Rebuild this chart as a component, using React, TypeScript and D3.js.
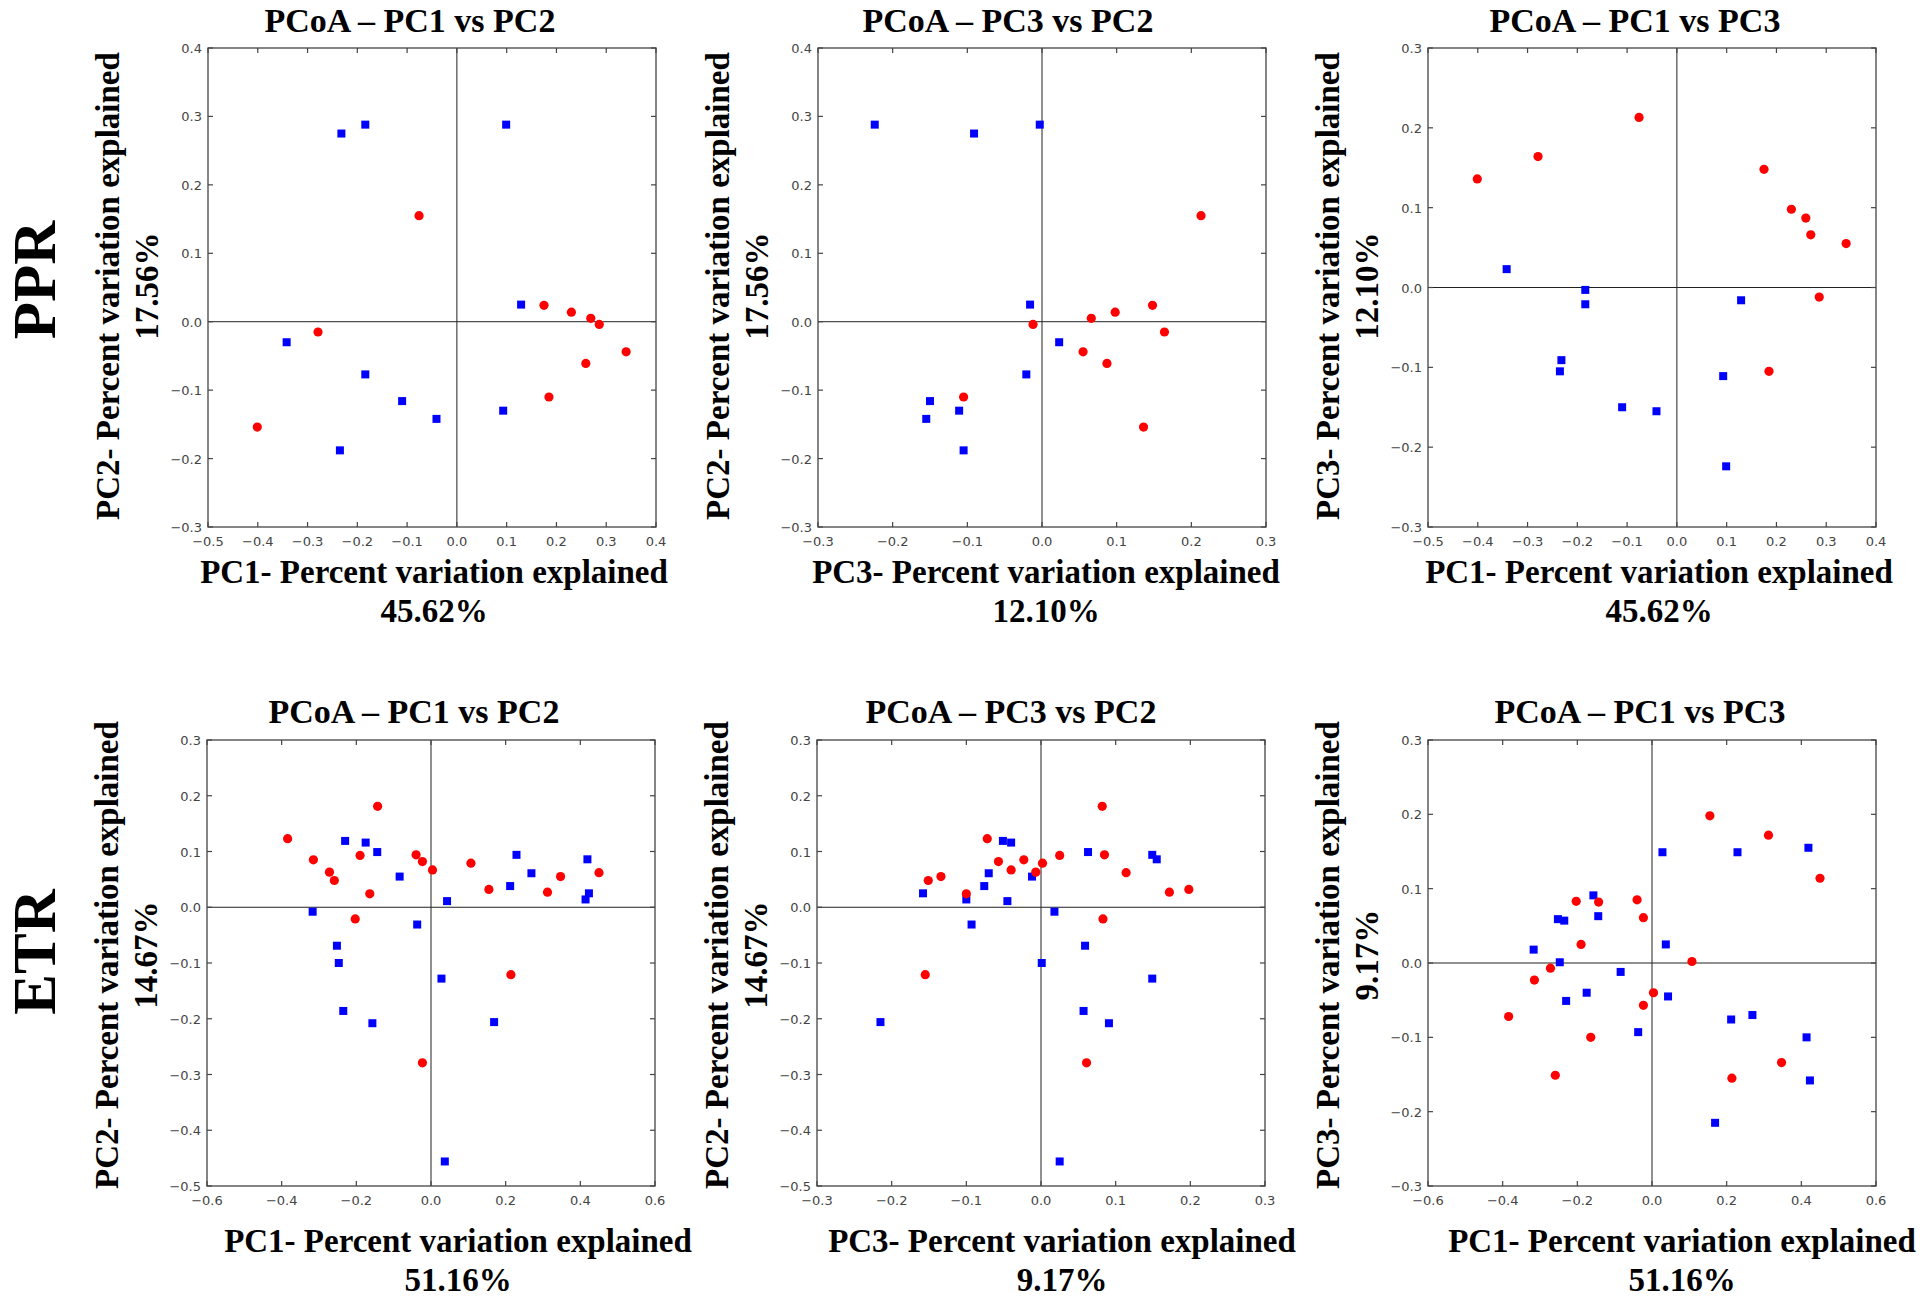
import React, { useEffect } from 'react';
import * as d3 from 'd3';

// ---------------- DATA ----------------
// PPR (blue squares / red circles)
const pprBluePC1 = [-0.232, -0.184, 0.099, 0.129, -0.342, -0.184, -0.110, -0.041, 0.093, -0.235];
const pprBluePC2 = [0.275, 0.288, 0.288, 0.025, -0.030, -0.077, -0.116, -0.142, -0.130, -0.188];
const pprBluePC3 = [-0.091, -0.003, -0.224, -0.016, 0.023, -0.021, -0.150, -0.155, -0.111, -0.105];
const pprRedPC1 = [-0.076, -0.279, -0.401, 0.175, 0.230, 0.269, 0.286, 0.340, 0.259, 0.185];
const pprRedPC2 = [0.155, -0.015, -0.154, 0.024, 0.014, 0.005, -0.004, -0.044, -0.061, -0.110];
const pprRedPC3 = [0.213, 0.164, 0.136, 0.148, 0.098, 0.066, -0.012, 0.055, 0.087, -0.105];

// ETR (blue squares / red circles)
const etrBluePC1 = [-0.230, -0.175, -0.144, -0.084, -0.317, -0.252, -0.247, -0.235, -0.157, -0.037, 0.043, 0.028, 0.037, 0.169, 0.212, 0.229, 0.269, 0.419, 0.414, 0.423];
const etrBluePC2 = [0.119, 0.116, 0.099, 0.055, -0.008, -0.069, -0.100, -0.186, -0.208, -0.031, 0.011, -0.128, -0.456, -0.206, 0.038, 0.094, 0.061, 0.086, 0.014, 0.025];
const etrBluePC3 = [-0.051, -0.040, 0.063, -0.012, 0.018, 0.059, 0.001, 0.057, 0.091, -0.093, -0.045, 0.149, 0.025, -0.215, -0.076, 0.149, -0.070, 0.155, -0.100, -0.158];
const etrRedPC1 = [-0.384, -0.315, -0.272, -0.259, -0.143, -0.190, -0.164, -0.203, -0.040, -0.023, 0.004, -0.023, 0.107, 0.155, 0.214, 0.312, 0.347, 0.450];
const etrRedPC2 = [0.123, 0.085, 0.063, 0.048, 0.181, 0.093, 0.024, -0.021, 0.094, 0.082, 0.067, -0.279, 0.079, 0.032, -0.121, 0.027, 0.055, 0.062];
const etrRedPC3 = [-0.072, -0.023, -0.007, -0.151, 0.082, 0.025, -0.100, 0.083, 0.085, -0.057, -0.040, 0.061, 0.002, 0.198, -0.155, 0.172, -0.134, 0.114];

// Tick values
const pprPC1Ticks = [-0.5, -0.4, -0.3, -0.2, -0.1, 0.0, 0.1, 0.2, 0.3, 0.4];
const pprPC2Ticks = [-0.3, -0.2, -0.1, 0.0, 0.1, 0.2, 0.3, 0.4];
const pprPC3Ticks = [-0.3, -0.2, -0.1, 0.0, 0.1, 0.2, 0.3];
const etrPC1Ticks = [-0.6, -0.4, -0.2, 0.0, 0.2, 0.4, 0.6];
const etrPC2Ticks = [-0.5, -0.4, -0.3, -0.2, -0.1, 0.0, 0.1, 0.2, 0.3];
const etrPC3Ticks = [-0.3, -0.2, -0.1, 0.0, 0.1, 0.2, 0.3];

// Texts
const panelTitles = ['PCoA – PC1 vs PC2', 'PCoA – PC3 vs PC2', 'PCoA – PC1 vs PC3'];
const pcNames = ['PC1', 'PC2', 'PC3'];
const pprVariance = ['45.62%', '17.56%', '12.10%'];
const etrVariance = ['51.16%', '14.67%', '9.17%'];
const rowLabels = ['PPR', 'ETR'];
// which PCs each column plots (x, y)
const columnAxes: [number, number][] = [[0, 1], [2, 1], [0, 2]];

const BLUE = '#0000ff';
const RED = '#ff0000';
const SERIF = '"Liberation Serif", "Times New Roman", serif';
const SANS = '"DejaVu Sans", sans-serif';
const fmt = d3.format('.1f');

type PanelProps = {
  left: number; top: number; w: number; h: number;
  xTicks: number[]; yTicks: number[];
  blueX: number[]; blueY: number[]; redX: number[]; redY: number[];
  title: string; titleX: number; titleY: number;
  xLabel: string; xPct: string; xLabelX: number; xLabelY: number;
  yLabel: string; yPct: string; yLabelCY: number;
};

function Panel(p: PanelProps) {
  const x = d3.scaleLinear().domain([p.xTicks[0], p.xTicks[p.xTicks.length - 1]]).range([p.left, p.left + p.w]);
  const y = d3.scaleLinear().domain([p.yTicks[0], p.yTicks[p.yTicks.length - 1]]).range([p.top + p.h, p.top]);
  const tl = 5;
  const frame = '#444';
  const bottom = p.top + p.h;
  const right = p.left + p.w;
  const sq = 8;
  return (
    <g>
      <text x={p.titleX} y={p.titleY} textAnchor="middle" fontFamily={SERIF} fontWeight="bold" fontSize={34} fill="#000">{p.title}</text>
      {/* zero lines */}
      <line x1={x(0)} x2={x(0)} y1={p.top} y2={bottom} stroke="#222" strokeWidth={1} />
      <line x1={p.left} x2={right} y1={y(0)} y2={y(0)} stroke="#222" strokeWidth={1} />
      {/* ticks */}
      {p.xTicks.map((t, i) => (
        <g key={'xt' + i}>
          <line x1={x(t)} x2={x(t)} y1={bottom} y2={bottom - tl} stroke={frame} strokeWidth={1.2} />
          <line x1={x(t)} x2={x(t)} y1={p.top} y2={p.top + tl} stroke={frame} strokeWidth={1.2} />
          <text x={x(t)} y={bottom + 19} textAnchor="middle" fontFamily={SANS} fontSize={13} fill="#444">{fmt(t)}</text>
        </g>
      ))}
      {p.yTicks.map((t, i) => (
        <g key={'yt' + i}>
          <line x1={p.left} x2={p.left + tl} y1={y(t)} y2={y(t)} stroke={frame} strokeWidth={1.2} />
          <line x1={right} x2={right - tl} y1={y(t)} y2={y(t)} stroke={frame} strokeWidth={1.2} />
          <text x={p.left - 6} y={y(t) + 5} textAnchor="end" fontFamily={SANS} fontSize={13} fill="#444">{fmt(t)}</text>
        </g>
      ))}
      <rect x={p.left} y={p.top} width={p.w} height={p.h} fill="none" stroke={frame} strokeWidth={1.3} />
      {/* points */}
      {p.blueX.map((v, i) => (
        <rect key={'b' + i} x={x(v) - sq / 2} y={y(p.blueY[i]) - sq / 2} width={sq} height={sq} fill={BLUE} />
      ))}
      {p.redX.map((v, i) => (
        <circle key={'r' + i} cx={x(v)} cy={y(p.redY[i])} r={4.6} fill={RED} />
      ))}
      {/* axis labels */}
      <text x={p.xLabelX} y={p.xLabelY} textAnchor="middle" fontFamily={SERIF} fontWeight="bold" fontSize={33} fill="#000">{p.xLabel}</text>
      <text x={p.xLabelX} y={p.xLabelY + 39} textAnchor="middle" fontFamily={SERIF} fontWeight="bold" fontSize={33} fill="#000">{p.xPct}</text>
      <text transform={`translate(${p.left - 89},${p.yLabelCY}) rotate(-90)`} textAnchor="middle" fontFamily={SERIF} fontWeight="bold" fontSize={33} fill="#000">{p.yLabel}</text>
      <text transform={`translate(${p.left - 50},${p.yLabelCY}) rotate(-90)`} textAnchor="middle" fontFamily={SERIF} fontWeight="bold" fontSize={33} fill="#000">{p.yPct}</text>
    </g>
  );
}

export default function App() {
  useEffect(() => {
    document.body.style.margin = '0';
  }, []);

  const pprData = [pprBluePC1, pprBluePC2, pprBluePC3];
  const pprRed = [pprRedPC1, pprRedPC2, pprRedPC3];
  const pprTicks = [pprPC1Ticks, pprPC2Ticks, pprPC3Ticks];
  const etrData = [etrBluePC1, etrBluePC2, etrBluePC3];
  const etrRed = [etrRedPC1, etrRedPC2, etrRedPC3];
  const etrTicks = [etrPC1Ticks, etrPC2Ticks, etrPC3Ticks];

  const rows = [
    {
      blue: pprData, red: pprRed, ticks: pprTicks, variance: pprVariance,
      lefts: [208, 818, 1428], top: 48, h: 479,
      titleXs: [410, 1008, 1635], titleY: 32,
      xLabelXs: [434, 1046, 1659], xLabelY: 583, yCY: 286,
    },
    {
      blue: etrData, red: etrRed, ticks: etrTicks, variance: etrVariance,
      lefts: [207, 817, 1428], top: 740, h: 446,
      titleXs: [414, 1011, 1640], titleY: 723,
      xLabelXs: [458, 1062, 1682], xLabelY: 1252, yCY: 955,
    },
  ];

  return (
    <svg width={1920} height={1300} style={{ position: 'absolute', left: 0, top: 0, background: '#fff', display: 'block' }}>
      <rect x={0} y={0} width={1920} height={1300} fill="#fff" />
      {rows.map((r, ri) => (
        <g key={ri}>
          {columnAxes.map(([xi, yi], ci) => (
            <Panel
              key={ci}
              left={r.lefts[ci]} top={r.top} w={448} h={r.h}
              xTicks={r.ticks[xi]} yTicks={r.ticks[yi]}
              blueX={r.blue[xi]} blueY={r.blue[yi]} redX={r.red[xi]} redY={r.red[yi]}
              title={panelTitles[ci]} titleX={r.titleXs[ci]} titleY={r.titleY}
              xLabel={`${pcNames[xi]}- Percent variation explained`} xPct={r.variance[xi]}
              xLabelX={r.xLabelXs[ci]} xLabelY={r.xLabelY}
              yLabel={`${pcNames[yi]}- Percent variation explained`} yPct={r.variance[yi]} yLabelCY={r.yCY}
            />
          ))}
        </g>
      ))}
      <text transform="translate(55,280) rotate(-90)" textAnchor="middle" fontFamily={SERIF} fontWeight="bold" fontSize={61} fill="#000">{rowLabels[0]}</text>
      <text transform="translate(55,952) rotate(-90)" textAnchor="middle" fontFamily={SERIF} fontWeight="bold" fontSize={61} fill="#000">{rowLabels[1]}</text>
    </svg>
  );
}
